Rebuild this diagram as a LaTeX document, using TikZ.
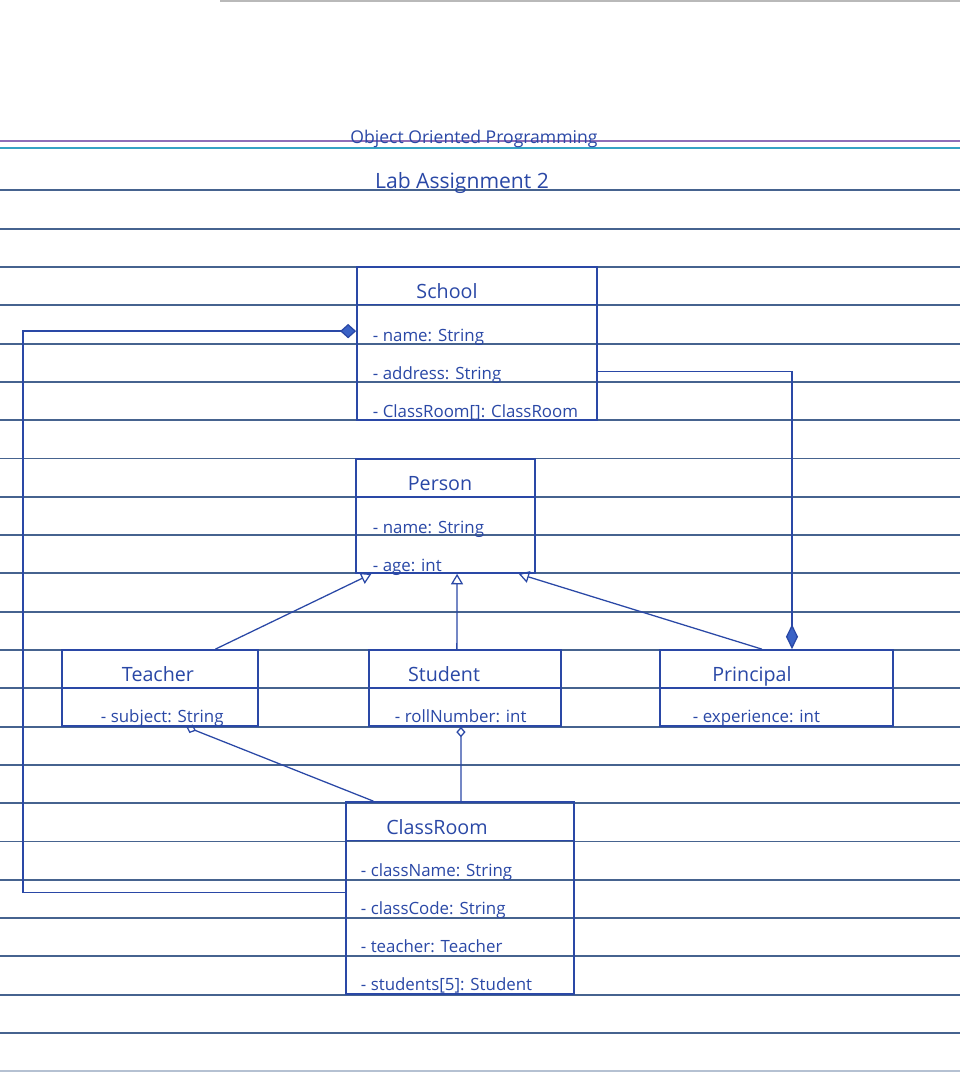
\documentclass[tikz,border=0pt]{standalone}
\usepackage{fontspec}
\setmainfont{Open Sans}
\usetikzlibrary{arrows.meta,calc}
\definecolor{ink}{HTML}{2A48A6}
\definecolor{rule}{HTML}{46638F}
\definecolor{marginrule}{HTML}{8E6FB8}
\definecolor{cyanrule}{HTML}{35A3C4}
\definecolor{fillink}{HTML}{3A62C6}

\begin{document}
\begin{tikzpicture}[x=0.025cm,y=-0.025cm,
  paper/.style={rule, line width=1.4pt},
  classbox/.style={draw=ink, line width=1.2pt, inner sep=0pt},
  sep/.style={ink, line width=1.2pt},
  titleA/.style={text=ink, font=\fontsize{12.5}{15}\selectfont, anchor=base},
  titleB/.style={text=ink, font=\fontsize{15}{17}\selectfont, anchor=base},
  cname/.style={text=ink, font=\fontsize{14}{16}\selectfont, anchor=base},
  attr/.style={text=ink, font=\fontsize{12}{14}\selectfont, anchor=base west},
  link/.style={ink, line width=0.9pt},
  inherit/.style={link, -{Triangle[open, length=2.6mm, width=3mm, line width=0.9pt]}},
  composeP/.style={link, -{Diamond[fill=fillink, length=6.2mm, width=3mm]}},
  composeS/.style={link, -{Diamond[fill=fillink, length=4mm, width=3.6mm]}},
  aggr/.style={link, -{Diamond[open, length=2.6mm, width=2.3mm, line width=0.9pt]}}
]
\useasboundingbox (0,0) rectangle (960,1073);
\fill[white] (0,0) rectangle (960,1073);

% ruled paper
\draw[gray!55, line width=1.4pt] (220,1) -- (960,1);
\draw[marginrule, line width=1.2pt] (0,141) -- (960,141);
\draw[cyanrule, line width=1.2pt] (0,148) -- (960,148);
\foreach \k in {-2,...,20}
  \draw[paper] (0,{267+38.3*\k}) -- (960,{267+38.3*\k});
\draw[rule!40, line width=1pt] (0,1071) -- (960,1071);

% heading
\node[titleA] (ttl1) at (474,143) {Object Oriented Programming};
\node[titleB] (ttl2) at (462,188) {Lab Assignment 2};

% classes
\node[classbox, minimum width=6cm, minimum height=3.825cm] (school) at (477,343.5) {};
\node[classbox, minimum width=4.475cm, minimum height=2.85cm] (person) at (445.5,516) {};
\node[classbox, minimum width=4.9cm, minimum height=1.9cm] (teacher) at (160,688) {};
\node[classbox, minimum width=4.8cm, minimum height=1.9cm] (student) at (465,688) {};
\node[classbox, minimum width=5.825cm, minimum height=1.9cm] (principal) at (776.5,688) {};
\node[classbox, minimum width=5.7cm, minimum height=4.8cm] (classroom) at (460,898) {};

% header separators
\draw[sep] ($(school.north west)!0.248!(school.south west)$) -- ($(school.north east)!0.248!(school.south east)$);
\draw[sep] ($(person.north west)!0.333!(person.south west)$) -- ($(person.north east)!0.333!(person.south east)$);
\draw[sep] (teacher.west) -- (teacher.east);
\draw[sep] (student.west) -- (student.east);
\draw[sep] (principal.west) -- (principal.east);
\draw[sep] ($(classroom.north west)!0.203!(classroom.south west)$) -- ($(classroom.north east)!0.203!(classroom.south east)$);

% class names
\node[cname] (schoolname) at (447,298) {School};
\node[cname] (personname) at (440,490) {Person};
\node[cname] (teachername) at (158,681) {Teacher};
\node[cname] (studentname) at (444,681) {Student};
\node[cname] (principalname) at (752,681) {Principal};
\node[cname] (classroomname) at (437,834) {ClassRoom};

% attributes
\node[attr] (sa1) at (368,341) {- name: String};
\node[attr] (sa2) at (368,379) {- address: String};
\node[attr] (sa3) at (368,417) {- ClassRoom[]: ClassRoom};
\node[attr] (pa1) at (368,533) {- name: String};
\node[attr] (pa2) at (368,571) {- age: int};
\node[attr] (ta1) at (96,722) {- subject: String};
\node[attr] (sta1) at (390,722) {- rollNumber: int};
\node[attr] (pra1) at (688,722) {- experience: int};
\node[attr] (ca1) at (356,876) {- className: String};
\node[attr] (ca2) at (356,914) {- classCode: String};
\node[attr] (ca3) at (356,952) {- teacher: Teacher};
\node[attr] (ca4) at (356,990) {- students[5]: Student};

% generalisation
\draw[inherit] ($(teacher.north west)!0.78!(teacher.north east)$) -- ($(person.south west)!0.09!(person.south east)$);
\draw[inherit] ($(student.north west)!0.458!(student.north east)$) -- ($(person.south west)!0.564!(person.south east)$);
\draw[inherit] ($(principal.north west)!0.438!(principal.north east)$) -- ($(person.south west)!0.905!(person.south east)$);

% composition
\draw[composeP] ($(school.north east)!0.68!(school.south east)$) -| ($(principal.north west)!0.566!(principal.north east)$);
\coordinate (rail) at (23,0);
\draw[composeS] ($(classroom.north west)!0.47!(classroom.south west)$) coordinate (crwest)
  -- (crwest -| rail) |- ($(school.north west)!0.42!(school.south west)$);

% aggregation
\draw[aggr] ($(classroom.north west)!0.123!(classroom.north east)$) -- ($(teacher.south west)!0.633!(teacher.south east)$);
\draw[aggr] ($(classroom.north west)!0.504!(classroom.north east)$) -- ($(student.south west)!0.479!(student.south east)$);
\end{tikzpicture}
\end{document}
